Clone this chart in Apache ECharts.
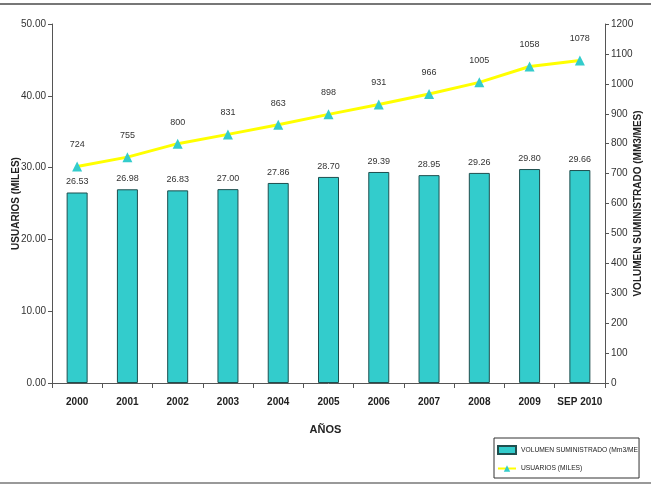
<!DOCTYPE html>
<html><head><meta charset="utf-8">
<script src="https://cdn.jsdelivr.net/npm/echarts@6/dist/echarts.min.js"></script>
<style>html,body{margin:0;padding:0;background:#fff}#c{width:651px;height:489px}</style>
</head><body><div id="c"></div>
<script>
const categories = ['2000','2001','2002','2003','2004','2005','2006','2007','2008','2009','SEP 2010'];
const volumen = [26.53,26.98,26.83,27.00,27.86,28.70,29.39,28.95,29.26,29.80,29.66];
const usuarios = [724,755,800,831,863,898,931,966,1005,1058,1078];
const leftTicks = {min:0,max:50,interval:10};
const rightTicks = {min:0,max:1200,interval:100};
const FONT = '"Liberation Sans Narrow","Liberation Sans",Arial,sans-serif';
const chart = echarts.init(document.getElementById('c'));
chart.setOption({
  animation:false,
  textStyle:{fontFamily:FONT},
  grid:{left:52,right:46,top:24,bottom:106,containLabel:false,outerBoundsMode:'none'},
  graphic:[
    {type:'line',shape:{x1:0,y1:4,x2:651,y2:4},style:{stroke:'#777',lineWidth:2}},
    {type:'line',shape:{x1:0,y1:483,x2:651,y2:483},style:{stroke:'#999',lineWidth:2}},
    {type:'text',left:'center',top:424,style:{text:'AÑOS',font:'bold 11px '+FONT,fill:'#222'}}
  ],
  legend:{
    orient:'vertical',left:494,top:438,itemGap:10,itemWidth:18,itemHeight:8,
    borderColor:'#333',borderWidth:1,padding:[7,1,6,3],
    textStyle:{fontSize:6.7,color:'#222',fontFamily:FONT,width:122,overflow:'truncate',ellipsis:''},
    data:[{name:'VOLUMEN SUMINISTRADO (Mm3/MES',icon:'rect'},{name:'USUARIOS (MILES)'}]
  },
  xAxis:{type:'category',data:categories,
    axisLine:{lineStyle:{color:'#555'}},
    axisTick:{show:true,alignWithLabel:false,lineStyle:{color:'#555'}},
    axisLabel:{fontWeight:'bold',fontSize:10,color:'#222',margin:14,interval:0}},
  yAxis:[
    {type:'value',min:leftTicks.min,max:leftTicks.max,interval:leftTicks.interval,
     name:'USUARIOS (MILES)',nameLocation:'middle',nameGap:31,nameMoveOverlap:false,
     nameTextStyle:{fontWeight:'bold',fontSize:10,color:'#222'},
     axisLine:{show:true,lineStyle:{color:'#555'}},axisTick:{show:true,inside:false,length:4,lineStyle:{color:'#555'}},
     splitLine:{show:false},
     axisLabel:{formatter:v=>v.toFixed(2),fontSize:10,color:'#333',margin:6}},
    {type:'value',min:rightTicks.min,max:rightTicks.max,interval:rightTicks.interval,position:'right',
     name:'VOLUMEN SUMINISTRADO (MM3/MES)',nameLocation:'middle',nameGap:28,nameRotate:90,nameMoveOverlap:false,
     nameTextStyle:{fontWeight:'bold',fontSize:10,color:'#222'},
     axisLine:{show:true,lineStyle:{color:'#555'}},axisTick:{show:true,length:4,lineStyle:{color:'#555'}},
     splitLine:{show:false},
     axisLabel:{formatter:v=>String(v),fontSize:10,color:'#333',margin:6}}
  ],
  series:[
    {name:'VOLUMEN SUMINISTRADO (Mm3/MES',type:'bar',yAxisIndex:0,data:volumen,barWidth:21,
     itemStyle:{color:'#33CCCC',borderColor:'#1f4f4f',borderWidth:1},
     label:{show:true,position:'top',distance:6,formatter:p=>p.value.toFixed(2),fontSize:9,color:'#333'}},
    {name:'USUARIOS (MILES)',type:'line',yAxisIndex:1,data:usuarios,
     lineStyle:{color:'#FFFF00',width:3},itemStyle:{color:'#33CCCC'},
     symbol:'triangle',symbolSize:10,
     label:{show:true,position:'top',distance:12,fontSize:9,color:'#333'}}
  ]
});
</script></body></html>
